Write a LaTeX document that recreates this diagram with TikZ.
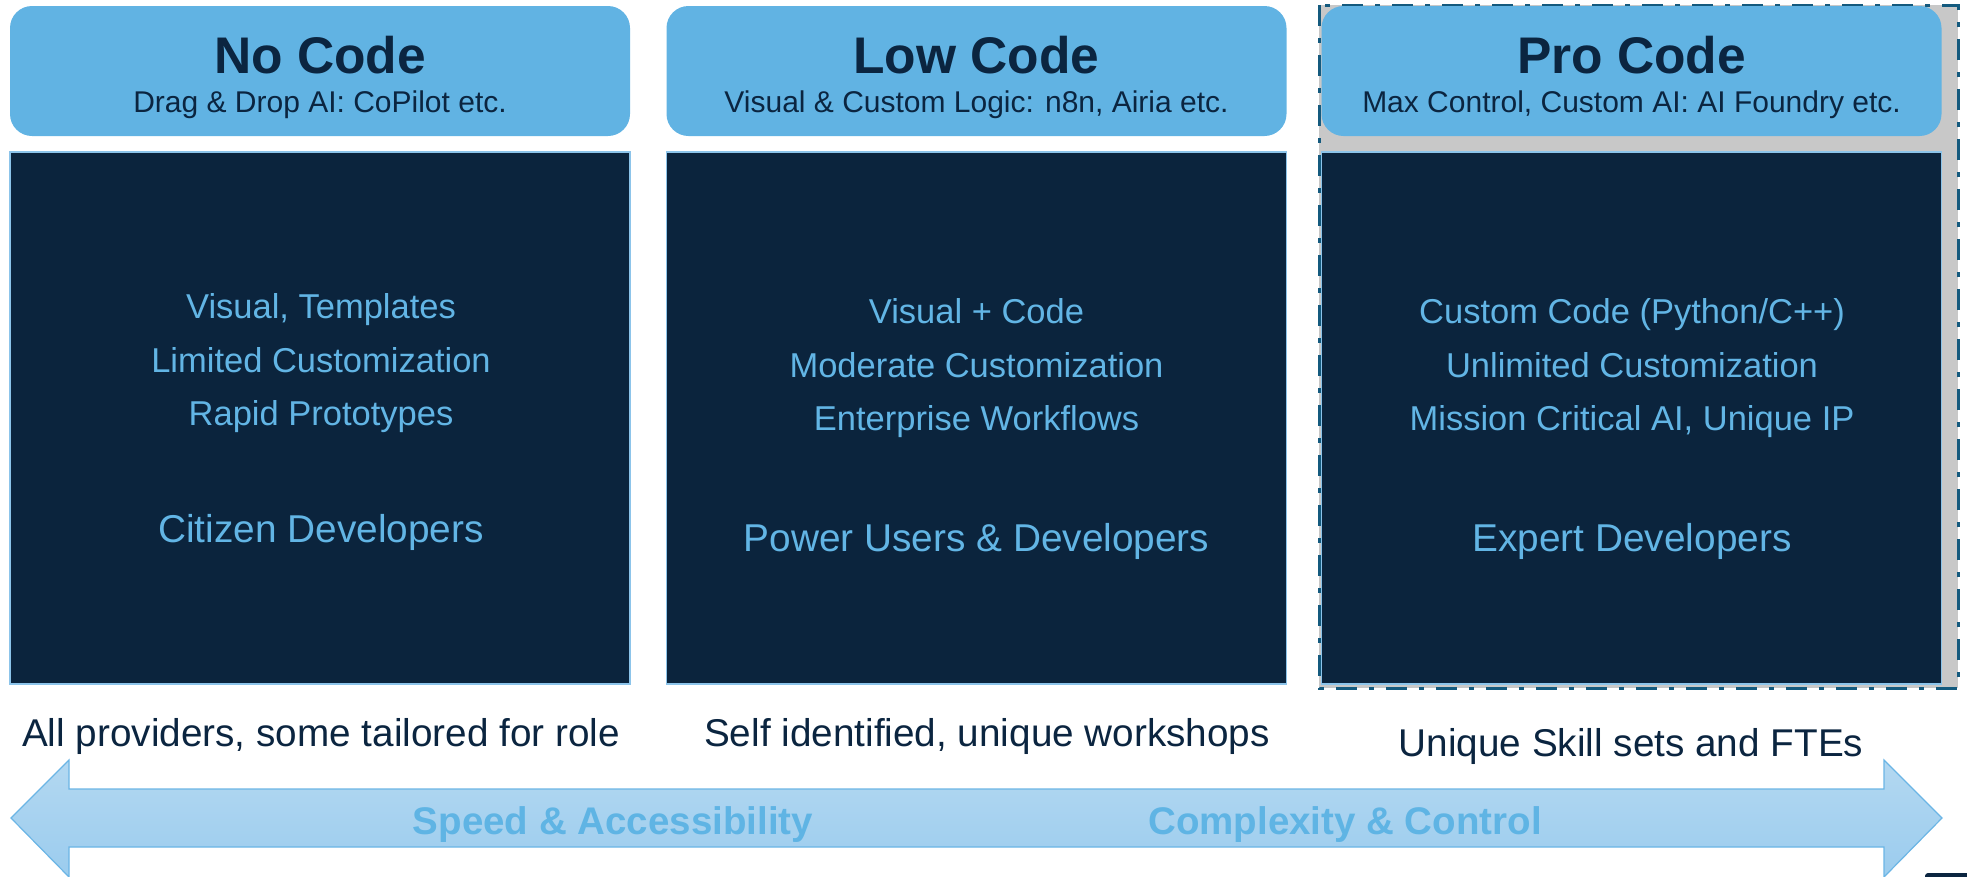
\documentclass[tikz,border=0pt]{standalone}
\usepackage{fontspec}
\setmainfont{Liberation Sans}
\definecolor{headblue}{HTML}{61B3E3}
\definecolor{navy}{HTML}{0B2540}
\definecolor{panel}{HTML}{0B243D}
\definecolor{panelrim}{HTML}{8CC4EA}
\definecolor{panelink}{HTML}{62B5E5}
\definecolor{framegrey}{HTML}{C8C8C8}
\definecolor{frameline}{HTML}{145A7E}
\definecolor{arrowtop}{HTML}{B3D8F1}
\definecolor{arrowbot}{HTML}{9BCCEE}
\definecolor{arrowrim}{HTML}{6BB5E5}
\definecolor{arrowink}{HTML}{5FB4E4}
\newcommand{\fsz}[1]{\fontsize{#1}{#1}\selectfont}
\begin{document}
\begin{tikzpicture}[x=1pt,y=-1pt,
  headbox/.style={fill=headblue, draw=none, rounded corners=22pt,
    minimum width=620pt, minimum height=130pt, inner sep=0pt},
  panelbox/.style={fill=panel, draw=panelrim, line width=1.5pt,
    minimum width=620pt, minimum height=532pt, inner sep=0pt},
  title/.style={anchor=base, text=navy, font=\fsz{51.5}\bfseries, inner sep=0pt},
  subtitle/.style={anchor=base, text=navy, font=\fsz{30}, inner sep=0pt},
  item/.style={anchor=base, text=panelink, font=\fsz{34.5}, inner sep=0pt},
  who/.style={anchor=base, text=panelink, font=\fsz{38.8}, inner sep=0pt},
  foot/.style={anchor=base, text=navy, font=\fsz{38.7}, inner sep=0pt},
  axis/.style={anchor=base, text=arrowink, font=\fsz{38.5}\bfseries, inner sep=0pt}]
\useasboundingbox (0,0) rectangle (1967,876);

% highlighted frame behind the Pro Code column
\path[fill=framegrey] (1319,5) rectangle (1958,688);
\draw[frameline, line width=3pt, dash pattern=on 21pt off 12pt on 5pt off 12pt]
  (1319,5) rectangle (1958,688);

% column headers
\node[headbox] (nohead)  at (320,71)    {};
\node[headbox] (lowhead) at (976.5,71)  {};
\node[headbox] (prohead) at (1631.5,71) {};

\node[title]    (notitle)  at (320,73)    {No Code};
\node[subtitle] (nosub)    at (320,112)   {Drag \& Drop AI: CoPilot etc.};
\node[title]    (lowtitle) at (976.5,73)  {Low Code};
\node[subtitle] (lowsub)   at (976.5,112) {Visual \& Custom Logic: n8n, Airia etc.};
\node[title]    (protitle) at (1631.5,73) {Pro Code};
\node[subtitle] (prosub)   at (1631.5,112){Max Control, Custom AI: AI Foundry etc.};

% dark panels
\node[panelbox] (nopanel)  at (320,418)    {};
\node[panelbox] (lowpanel) at (976.5,418)  {};
\node[panelbox] (propanel) at (1631.5,418) {};

% No Code panel text
\node[item] (no1) at (321,318) {Visual, Templates};
\node[item] (no2) at (321,372) {Limited Customization};
\node[item] (no3) at (321,425) {Rapid Prototypes};
\node[who]  (no4) at (321,542) {Citizen Developers};

% Low Code panel text
\node[item] (low1) at (976.5,323) {Visual + Code};
\node[item] (low2) at (976.5,377) {Moderate Customization};
\node[item] (low3) at (976.5,430) {Enterprise Workflows};
\node[who]  (low4) at (976.5,551) {Power Users \& Developers};

% Pro Code panel text
\node[item] (pro1) at (1632,323) {Custom Code (Python/C++)};
\node[item] (pro2) at (1632,377) {Unlimited Customization};
\node[item] (pro3) at (1632,430) {Mission Critical AI, Unique IP};
\node[who]  (pro4) at (1632,551) {Expert Developers};

% audience notes under the panels
\node[foot] (nofoot)  at (321,746)  {All providers, some tailored for role};
\node[foot] (lowfoot) at (987,746)  {Self identified, unique workshops};
\node[foot] (profoot) at (1631,756) {Unique Skill sets and FTEs};

% double-headed spectrum arrow
\path[draw=arrowrim, line width=1.2pt, top color=arrowtop, bottom color=arrowbot]
  (11,818) -- (69,760) -- (69,789) -- (1884,789) -- (1884,760) -- (1942,818)
  -- (1884,877) -- (1884,847) -- (69,847) -- (69,877) -- cycle;
\node[axis] (speed)   at (613,834)  {Speed \& Accessibility};
\node[axis] (complex) at (1345,834) {Complexity \& Control};

% corner mark
\fill[navy, rounded corners=3pt] (1925,873) rectangle (1975,890);
\end{tikzpicture}
\end{document}
